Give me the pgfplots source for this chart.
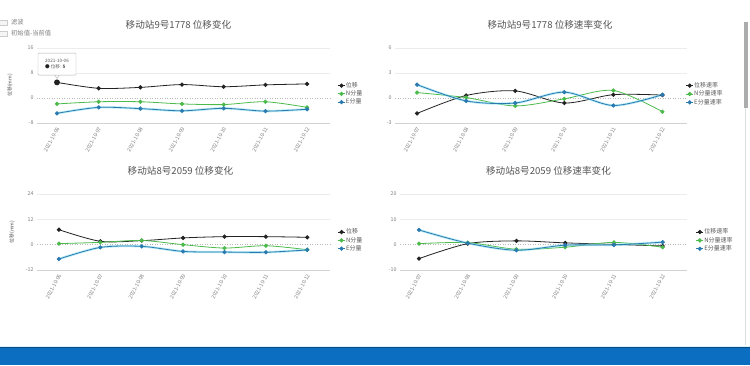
\documentclass[border=0pt]{standalone}
\usepackage{fontspec}
\setmainfont{Noto Sans CJK SC}
\usepackage{pgfplots}
\usepackage{pgfplotstable}
\pgfplotsset{compat=1.18}
\newcommand\fs[1]{\fontsize{#1}{#1}\selectfont}
\definecolor{cblack}{HTML}{222222}
\definecolor{cgreen}{HTML}{4CBB4C}
\definecolor{cblue}{HTML}{2A7AB0}
\definecolor{cglow}{HTML}{7FDCF0}
\definecolor{ctext}{HTML}{555555}
\definecolor{band}{HTML}{0B6EC0}

\pgfplotstableread{
x D N E
0 5.0 -1.9 -4.9
1 3.1 -1.2 -3.0
2 3.4 -1.2 -3.4
3 4.3 -1.9 -4.1
4 3.6 -2.1 -3.3
5 4.2 -1.2 -4.2
6 4.5 -3.0 -3.6
}\tlA
\pgfplotstableread{
x D N E
0 -1.85 0.65 1.6
1 0.3 0.05 -0.35
2 0.85 -0.95 -0.6
3 -0.6 -0.1 0.7
4 0.4 0.9 -0.9
5 0.35 -1.65 0.4
}\trA
\pgfplotstableread{
x D N E
0 7.1 0.5 -6.8
1 1.6 1.1 -1.3
2 1.9 2.0 -0.8
3 3.2 0.0 -3.2
4 3.8 -1.6 -3.5
5 3.8 -0.5 -3.6
6 3.5 -2.4 -2.5
}\blA
\pgfplotstableread{
x D N E
0 -5.5 0.4 5.8
1 0.4 0.8 0.6
2 1.5 -1.8 -2.2
3 0.7 -1.0 -0.2
4 0.1 0.9 -0.1
5 -0.5 -1.0 1.0
}\brA

\pgfplotsset{
  base/.style={
    scale only axis, clip=false,
    axis x line*=bottom, axis y line*=left,
    y axis line style={draw=none},
    x axis line style={draw=gray!35, line width=0.5pt},
    major tick length=0pt,
    ymajorgrids, grid style={gray!15, line width=0.4pt},
    tick label style={font=\fs{5.3}, text=gray},
    /pgf/number format/assume math mode=true,
    xtick=data,
    xticklabel style={rotate=62, anchor=east, yshift=-3pt},
    extra y ticks={0},
    extra y tick style={ymajorgrids=true, major grid style={dash pattern=on 1pt off 1.5pt, gray!55, line width=0.5pt}},
    title style={font=\fs{9.6}, text=ctext, at={(0.5,1)}, anchor=south, yshift=9.5pt},
    legend style={draw=none, fill=none, font=\fs{6}, text=ctext, anchor=north west,
      row sep=0.6pt, nodes={inner sep=0.6pt}},
    legend cell align=left,
    legend image code/.code={\draw[mark repeat=2,mark phase=2,#1] plot coordinates {(0pt,0pt) (3.5pt,0pt) (7pt,0pt)};},
    every axis plot/.append style={line width=0.8pt, mark size=1.7pt},
  },
  sD/.style={color=cblack, mark=*, smooth},
  sN/.style={color=cgreen, mark=*, smooth},
  sE/.style={color=cblue, mark=*, smooth},
  sG/.style={color=cglow, opacity=0.55, line width=2.4pt, no marks, smooth, forget plot},
}

\begin{document}
\begin{tikzpicture}
\useasboundingbox (0pt,0pt) rectangle (750pt,365pt);
\fill[white] (0pt,0pt) rectangle (750pt,365pt);

% top-left check legend
\draw[gray!40, fill=gray!8] (-1pt,340pt) rectangle (7pt,345pt);
\draw[gray!40, fill=gray!8] (-1pt,329pt) rectangle (7pt,334pt);
\node[anchor=west, font=\fs{6.3}, text=gray, inner sep=0pt] at (11pt,342.5pt) {滤波};
\node[anchor=west, font=\fs{6.3}, text=gray, inner sep=0pt] at (11pt,331.5pt) {初始值-当前值};

% ---------- top-left ----------
\begin{axis}[base, at={(37pt,242pt)}, anchor=south west, width=293pt, height=75pt,
  xmin=-0.48, xmax=6.55, ymin=-8, ymax=16, ytick={-8,8,16},
  xticklabels={2021-10-06,2021-10-07,2021-10-08,2021-10-09,2021-10-10,2021-10-11,2021-10-12},
  title={移动站9号1778 位移变化}, title style={xshift=-5pt},
  legend style={at={(rel axis cs:1.015,0.58)}}]
\addplot[sD] table[x=x,y=D] {\tlA};
\addplot[sN] table[x=x,y=N] {\tlA};
\addplot[sG] table[x=x,y=E] {\tlA};
\addplot[sE] table[x=x,y=E] {\tlA};
\legend{位移,N分量,E分量}
\addplot[only marks, mark=*, cblack, mark size=2.5pt, forget plot] coordinates {(0,5)};
\node[rotate=90, font=\fs{5}, text=ctext] at ([xshift=-27pt]rel axis cs:0,0.5) {位移(mm)};
\draw[gray!60, fill=white] ([xshift=-2.5pt,yshift=7.5pt]axis cs:0,5) -- ([yshift=4pt]axis cs:0,5) -- ([xshift=2.5pt,yshift=7.5pt]axis cs:0,5);
\node[draw=gray!60, fill=white, rounded corners=1pt, anchor=south, font=\fs{4.6}, text=ctext,
  align=left, inner sep=2pt, minimum width=38pt, minimum height=22pt] at ([yshift=7pt]axis cs:0,5)
  {2021-10-06\\[1.5pt]{\color{cblack}●} 位移: \textbf{5}};
\end{axis}

% ---------- top-right ----------
\begin{axis}[base, at={(395pt,242pt)}, anchor=south west, width=292pt, height=75pt,
  xmin=-0.45, xmax=5.5, ymin=-3, ymax=6, ytick={-3,3,6},
  xticklabels={2021-10-07,2021-10-08,2021-10-09,2021-10-10,2021-10-11,2021-10-12},
  title={移动站9号1778 位移速率变化}, title style={xshift=9pt},
  legend style={at={(rel axis cs:0.985,0.58)}}]
\addplot[sD] table[x=x,y=D] {\trA};
\addplot[sN] table[x=x,y=N] {\trA};
\addplot[sG] table[x=x,y=E] {\trA};
\addplot[sE] table[x=x,y=E] {\trA};
\legend{位移速率,N分量速率,E分量速率}
\end{axis}

% ---------- bottom-left ----------
\begin{axis}[base, at={(37pt,95pt)}, anchor=south west, width=293pt, height=76pt,
  xmin=-0.53, xmax=6.55, ymin=-12, ymax=24, ytick={-12,12,24},
  xticklabels={2021-10-06,2021-10-07,2021-10-08,2021-10-09,2021-10-10,2021-10-11,2021-10-12},
  title={移动站8号2059 位移变化}, title style={xshift=-3pt},
  legend style={at={(rel axis cs:1.015,0.58)}}]
\addplot[sD] table[x=x,y=D] {\blA};
\addplot[sN] table[x=x,y=N] {\blA};
\addplot[sG] table[x=x,y=E] {\blA};
\addplot[sE] table[x=x,y=E] {\blA};
\legend{位移,N分量,E分量}
\node[rotate=90, font=\fs{5}, text=ctext] at ([xshift=-25pt]rel axis cs:0,0.5) {位移(mm)};
\end{axis}

% ---------- bottom-right ----------
\begin{axis}[base, at={(400pt,95pt)}, anchor=south west, width=287pt, height=76pt,
  xmin=-0.39, xmax=5.5, ymin=-10, ymax=20, ytick={-10,10,20},
  xticklabels={2021-10-07,2021-10-08,2021-10-09,2021-10-10,2021-10-11,2021-10-12},
  title={移动站8号2059 位移速率变化}, title style={xshift=5pt},
  legend style={at={(rel axis cs:1.02,0.58)}}]
\addplot[sD] table[x=x,y=D] {\brA};
\addplot[sN] table[x=x,y=N] {\brA};
\addplot[sG] table[x=x,y=E] {\brA};
\addplot[sE] table[x=x,y=E] {\brA};
\legend{位移速率,N分量速率,E分量速率}
\end{axis}

% scrollbar
\draw[gray!25, line width=0.6pt] (745.5pt,257pt) -- (745.5pt,20pt);
\fill[gray!65] (743.5pt,257pt) rectangle (747.5pt,343pt);
% bottom band
\fill[band] (0pt,0pt) rectangle (750pt,17pt);
\fill[band!70!black] (0pt,17pt) rectangle (750pt,17.8pt);
\fill[cyan!15] (0pt,17.8pt) rectangle (750pt,18.6pt);
\end{tikzpicture}
\end{document}
